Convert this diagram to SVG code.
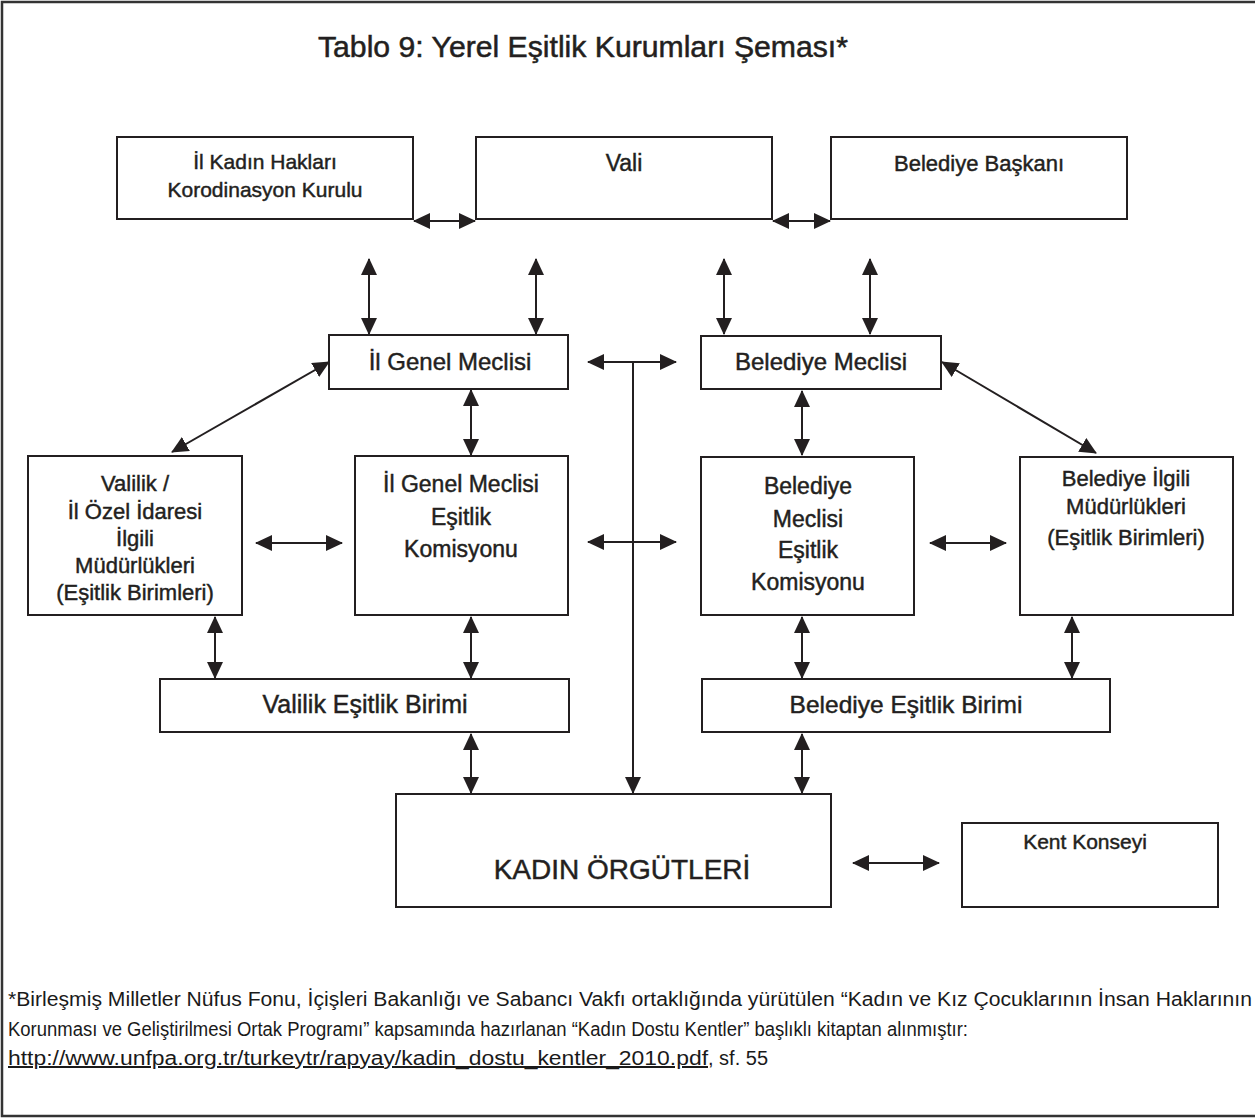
<svg xmlns="http://www.w3.org/2000/svg" width="1255" height="1119" viewBox="0 0 1255 1119">
<style>
.box{fill:#fff;stroke:#231f20;stroke-width:2}
.lbl{font-family:"Liberation Sans",Arial,sans-serif;fill:#231f20;stroke:#231f20;stroke-width:0.45;text-anchor:middle}
.f21{font-size:21px}.f22{font-size:22px}.f23{font-size:23px}.f24{font-size:24px}
.con{fill:none;stroke:#231f20;stroke-width:2}
.dbl{marker-start:url(#ah);marker-end:url(#ah)}
.one{marker-end:url(#ah)}
.foot{font-family:"Liberation Sans",Arial,sans-serif;font-size:20px;fill:#1a1a1a}
</style>
<defs>
<marker id="ah" markerUnits="userSpaceOnUse" markerWidth="17" markerHeight="16" refX="16" refY="8" orient="auto-start-reverse" viewBox="0 0 17 16">
<path d="M0,0 L17,8 L0,16 z" fill="#231f20"/>
</marker>
</defs>
<rect x="2" y="2" width="1275" height="1114" fill="#fff" stroke="#333" stroke-width="2.5"/>
<text x="318" y="57" textLength="530" lengthAdjust="spacingAndGlyphs" style="font-family:'Liberation Sans',Arial,sans-serif;font-size:29px;fill:#231f20;stroke:#231f20;stroke-width:0.5">Tablo 9: Yerel Eşitlik Kurumları Şeması*</text>

<g id="connectors">
<line class="con dbl" x1="414" y1="221" x2="475" y2="221"/>
<line class="con dbl" x1="773" y1="221" x2="830" y2="221"/>
<line class="con dbl" x1="369" y1="259" x2="369" y2="334"/>
<line class="con dbl" x1="536" y1="259" x2="536" y2="334"/>
<line class="con dbl" x1="724" y1="259" x2="724" y2="334"/>
<line class="con dbl" x1="870" y1="259" x2="870" y2="334"/>
<line class="con dbl" x1="588" y1="362" x2="676" y2="362"/>
<line class="con one" x1="633" y1="362" x2="633" y2="793"/>
<line class="con dbl" x1="329" y1="362" x2="172" y2="452"/>
<line class="con dbl" x1="942" y1="362" x2="1096" y2="453"/>
<line class="con dbl" x1="471" y1="390" x2="471" y2="455"/>
<line class="con dbl" x1="802" y1="391" x2="802" y2="455"/>
<line class="con dbl" x1="256" y1="543" x2="342" y2="543"/>
<line class="con dbl" x1="588" y1="542" x2="676" y2="542"/>
<line class="con dbl" x1="930" y1="543" x2="1006" y2="543"/>
<line class="con dbl" x1="215" y1="617" x2="215" y2="678"/>
<line class="con dbl" x1="471" y1="617" x2="471" y2="678"/>
<line class="con dbl" x1="802" y1="617" x2="802" y2="678"/>
<line class="con dbl" x1="1072" y1="617" x2="1072" y2="678"/>
<line class="con dbl" x1="471" y1="734" x2="471" y2="793"/>
<line class="con dbl" x1="802" y1="734" x2="802" y2="793"/>
<line class="con dbl" x1="853" y1="863" x2="939" y2="863"/>
</g>

<g id="n-kadin-haklari">
<rect class="box" x="117" y="137" width="296" height="82"/>
<text class="lbl f21" x="265" y="169">İl Kadın Hakları</text>
<text class="lbl f21" x="265" y="197">Korodinasyon Kurulu</text>
</g>
<g id="n-vali">
<rect class="box" x="476" y="137" width="296" height="82"/>
<text class="lbl f23" x="624" y="171">Vali</text>
</g>
<g id="n-belediye-baskani">
<rect class="box" x="831" y="137" width="296" height="82"/>
<text class="lbl f22" x="979" y="171">Belediye Başkanı</text>
</g>
<g id="n-il-genel-meclisi">
<rect class="box" x="329" y="335" width="239" height="54"/>
<text class="lbl f24" x="450" y="370">İl Genel Meclisi</text>
</g>
<g id="n-belediye-meclisi">
<rect class="box" x="701" y="336" width="240" height="53"/>
<text class="lbl f24" x="821" y="370">Belediye Meclisi</text>
</g>
<g id="n-valilik-mudurlukleri">
<rect class="box" x="28" y="456" width="214" height="159"/>
<text class="lbl f22" x="135" y="491">Valilik /</text>
<text class="lbl f22" x="135" y="519">İl Özel İdaresi</text>
<text class="lbl f22" x="135" y="546">İlgili</text>
<text class="lbl f22" x="135" y="573">Müdürlükleri</text>
<text class="lbl f22" x="135" y="600">(Eşitlik Birimleri)</text>
</g>
<g id="n-il-genel-esitlik">
<rect class="box" x="355" y="456" width="213" height="159"/>
<text class="lbl f23" x="461" y="492">İl Genel Meclisi</text>
<text class="lbl f23" x="461" y="525">Eşitlik</text>
<text class="lbl f23" x="461" y="557">Komisyonu</text>
</g>
<g id="n-belediye-esitlik">
<rect class="box" x="701" y="457" width="213" height="158"/>
<text class="lbl f23" x="808" y="494">Belediye</text>
<text class="lbl f23" x="808" y="527">Meclisi</text>
<text class="lbl f23" x="808" y="558">Eşitlik</text>
<text class="lbl f23" x="808" y="590">Komisyonu</text>
</g>
<g id="n-belediye-mudurlukleri">
<rect class="box" x="1020" y="457" width="213" height="158"/>
<text class="lbl f22" x="1126" y="486">Belediye İlgili</text>
<text class="lbl f22" x="1126" y="514">Müdürlükleri</text>
<text class="lbl f22" x="1126" y="545">(Eşitlik Birimleri)</text>
</g>
<g id="n-valilik-birimi">
<rect class="box" x="160" y="679" width="409" height="53"/>
<text class="lbl" x="365" y="713" style="font-size:25px">Valilik Eşitlik Birimi</text>
</g>
<g id="n-belediye-birimi">
<rect class="box" x="702" y="679" width="408" height="53"/>
<text class="lbl" x="906" y="713" style="font-size:24.5px">Belediye Eşitlik Birimi</text>
</g>
<g id="n-kadin-orgutleri">
<rect class="box" x="396" y="794" width="435" height="113"/>
<text class="lbl" x="622" y="879" style="font-size:28px">KADIN ÖRGÜTLERİ</text>
</g>
<g id="n-kent-konseyi">
<rect class="box" x="962" y="823" width="256" height="84"/>
<text class="lbl f21" x="1085" y="849">Kent Konseyi</text>
</g>

<text class="foot" x="8" y="1006" textLength="1244" lengthAdjust="spacingAndGlyphs">*Birleşmiş Milletler Nüfus Fonu, İçişleri Bakanlığı ve Sabancı Vakfı ortaklığında yürütülen “Kadın ve Kız Çocuklarının İnsan Haklarının</text>
<text class="foot" x="8" y="1036" textLength="960" lengthAdjust="spacingAndGlyphs">Korunması ve Geliştirilmesi Ortak Programı” kapsamında hazırlanan “Kadın Dostu Kentler” başlıklı kitaptan alınmıştır:</text>
<text class="foot" x="8" y="1065" textLength="700" lengthAdjust="spacingAndGlyphs" text-decoration="underline">http://www.unfpa.org.tr/turkeytr/rapyay/kadin_dostu_kentler_2010.pdf</text>
<text class="foot" x="708" y="1065">, sf. 55</text>
</svg>
